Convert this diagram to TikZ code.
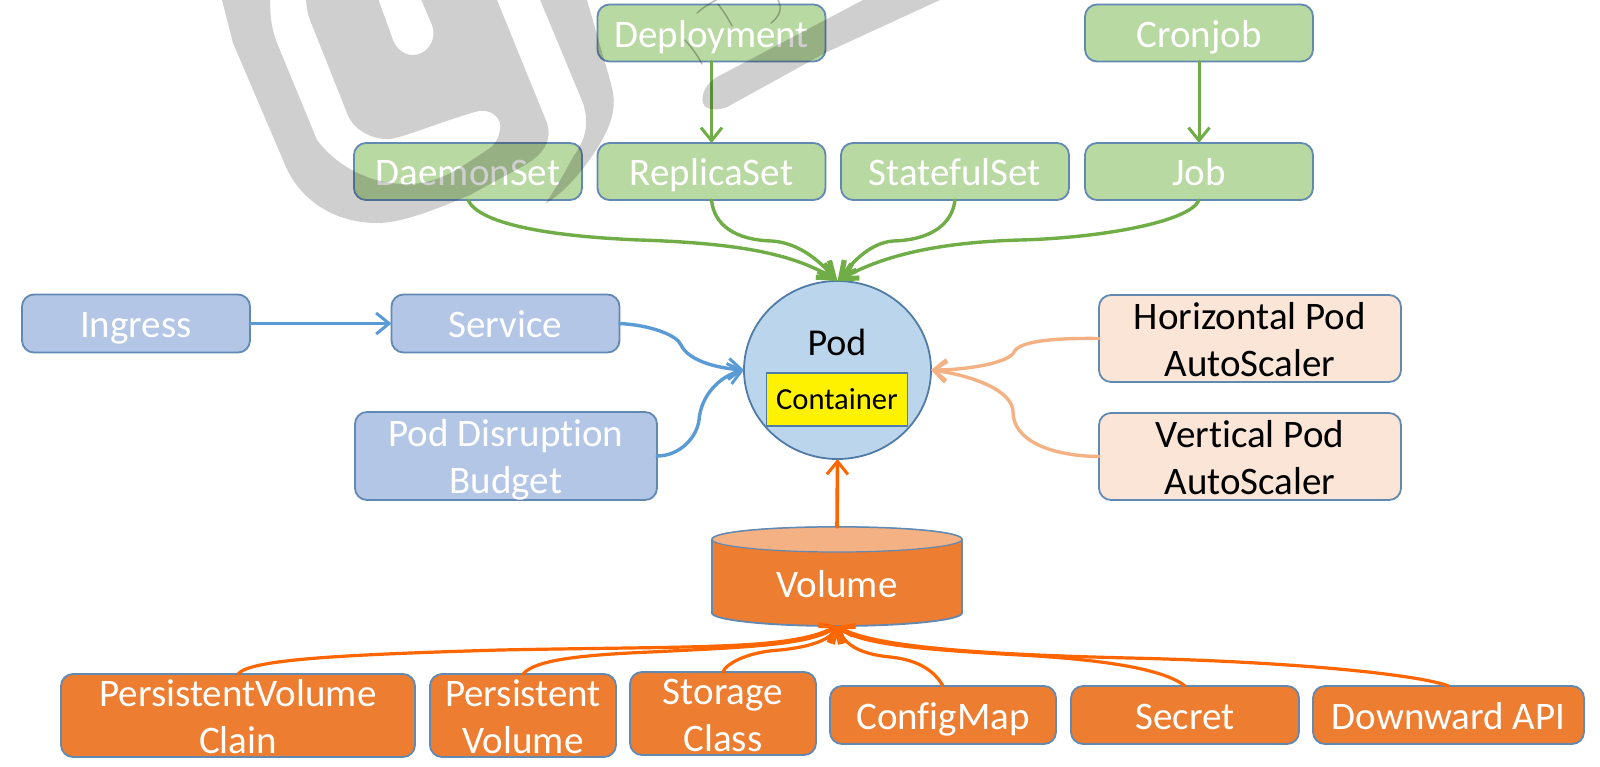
\documentclass[tikz,border=0pt]{standalone}
\usepackage{fontspec}
\setmainfont[Ligatures=NoCommon]{Carlito}
\usetikzlibrary{shapes.geometric,arrows.meta}
\definecolor{bord}{HTML}{6189B2}
\definecolor{gfill}{HTML}{B9D9A2}
\definecolor{bfill}{HTML}{B3C6E6}
\definecolor{pfill}{HTML}{FBE5D6}
\definecolor{ofill}{HTML}{ED7D31}
\definecolor{otop}{HTML}{F4B183}
\definecolor{podfill}{HTML}{BBD5ED}
\definecolor{podline}{HTML}{4F7BA6}
\definecolor{garrow}{HTML}{70AD47}
\definecolor{barrow}{HTML}{5B9BD5}
\definecolor{parrow}{HTML}{F4B183}
\definecolor{oarrow}{HTML}{FF6600}
\newcommand{\placelab}[2]{\raisebox{#1}[0pt][0pt]{\hbox to 0pt{\hss #2\hss}}}
\newcommand{\onelab}[1]{\placelab{-7pt}{#1}}
\newcommand{\twolab}[2]{\placelab{4.75pt}{#1}\placelab{-18.75pt}{#2}}
\tikzset{
  x=0.5pt,y=-0.5pt,
  boxbase/.style={rectangle,rounded corners=6pt,draw=bord,line width=.9pt,inner sep=0pt,outer sep=0pt,
    font=\fontsize{19.5}{23.5}\selectfont,minimum width=#1},
  greenbox/.style={boxbase=114pt,fill=gfill,text=white,minimum height=28.5pt},
  bluebox/.style={boxbase=114pt,fill=bfill,text=white,minimum height=29pt},
  peachbox/.style={boxbase=151pt,fill=pfill,text=black,minimum height=43.5pt},
  orangebox/.style={boxbase=#1,fill=ofill,text=white,minimum height=41.5pt},
  orangelow/.style={boxbase=#1,fill=ofill,text=white,minimum height=29pt},
  conn/.style={line width=#1,line cap=round,line join=round},
  tipped/.style={-{Straight Barb[length=6.5pt,width=10.5pt,line width=1.5pt]}},
  tippedheavy/.style={-{Straight Barb[length=7.5pt,width=8pt,line width=2.6pt]}},
  wm/.style={fill=black,opacity=.19,draw=none},
  scribble/.style={draw=black,opacity=.28,line width=.7pt,line cap=round}
}
\begin{document}
\begin{tikzpicture}
\useasboundingbox (0,0) rectangle (1600,766);
\fill[white] (0,0) rectangle (1600,766);

% upper green row
\node[greenbox] (dep) at (711.5,33) {\onelab{Deployment}};
\node[greenbox] (cron) at (1199,33) {\onelab{Cronjob}};
\node[greenbox] (ds) at (468,171.5) {\onelab{DaemonSet}};
\node[greenbox] (rs) at (711.5,171.5) {\onelab{ReplicaSet}};
\node[greenbox] (ss) at (955,171.5) {\onelab{StatefulSet}};
\node[greenbox] (job) at (1199,171.5) {\onelab{Job}};

% blue
\node[bluebox] (ing) at (136,323.5) {\onelab{Ingress}};
\node[bluebox] (svc) at (505.5,323.5) {\onelab{Service}};
\node[boxbase=151pt,fill=bfill,text=white,minimum height=44pt] (pdb) at (506,456) {\twolab{Pod Disruption}{Budget}};

% peach
\node[peachbox] (hpa) at (1250,338.5) {\twolab{Horizontal Pod}{AutoScaler}};
\node[peachbox] (vpa) at (1250,456.5) {\twolab{Vertical Pod}{AutoScaler}};

% pod
\node[ellipse,draw=podline,fill=podfill,line width=.9pt,inner sep=0pt,outer sep=0pt,minimum width=93.5pt,minimum height=89pt] (pod) at (837.5,370) {};
\node[font=\fontsize{19}{22}\selectfont,text=black,inner sep=0pt] (podt) at (837,342) {Pod};
\node[rectangle,draw=podline,fill=yellow,line width=.6pt,inner sep=0pt,outer sep=0pt,minimum width=70.5pt,minimum height=26.5pt,font=\fontsize{15.3}{18}\selectfont,text=black] (cont) at (837,399.5) {Container};

% volume
\node[rectangle,inner sep=0pt,outer sep=0pt,minimum width=125pt,minimum height=49.5pt] (vol) at (837,576.5) {};
\draw[fill=ofill,draw=bord,line width=.9pt] (712,539.5) -- (712,613)
  .. controls (712,620) and (768,626) .. (837,626)
  .. controls (906,626) and (962,620) .. (962,613) -- (962,539.5)
  .. controls (962,532) and (906,527) .. (837,527)
  .. controls (768,527) and (712,532) .. (712,539.5) -- cycle;
\draw[fill=otop,draw=bord,line width=.6pt] (712,539.5)
  .. controls (712,546) and (768,552) .. (837,552)
  .. controls (906,552) and (962,546) .. (962,539.5)
  .. controls (962,532) and (906,527) .. (837,527)
  .. controls (768,527) and (712,532) .. (712,539.5) -- cycle;
\node[font=\fontsize{19.5}{23.5}\selectfont,text=white,inner sep=0pt] (volt) at (837,584) {Volume};

% lower orange row
\node[orangebox=177pt] (pvc) at (238,715.5) {\twolab{PersistentVolume}{Clain}};
\node[orangebox=93pt] (pv) at (523,715.5) {\twolab{Persistent}{Volume}};
\node[orangebox=93pt] (sc) at (723,713.5) {\twolab{Storage}{Class}};
\node[orangelow=113pt] (cm) at (943,715) {\onelab{ConfigMap}};
\node[orangelow=114pt] (sec) at (1185,715) {\onelab{Secret}};
\node[orangelow=135.5pt] (dapi) at (1448.5,715) {\onelab{Downward API}};

% green connectors
\draw[conn=1.5pt,garrow,tipped] (dep.south) -- (rs.north);
\draw[conn=1.5pt,garrow,tipped] (cron.south) -- (job.north);
\draw[conn=1.7pt,garrow,tippedheavy] (ds.south) .. controls (478,222) and (540,236) .. (640,240) .. controls (730,243) and (790,252) .. (pod.north);
\draw[conn=1.7pt,garrow,tippedheavy] (rs.south) .. controls (714,225) and (735,240) .. (772,241) .. controls (800,243) and (820,262) .. (pod.north);
\draw[conn=1.7pt,garrow,tippedheavy] (ss.south) .. controls (952,225) and (930,240) .. (893,241) .. controls (870,243) and (853,262) .. (pod.north);
\draw[conn=1.7pt,garrow,tippedheavy] (job.south) .. controls (1190,222) and (1100,238) .. (1020,240) .. controls (950,242) and (890,252) .. (pod.north);

% blue connectors
\draw[conn=1.5pt,barrow,tipped] (ing.east) -- (svc.west);
\draw[conn=1.7pt,barrow,tipped] (svc.east) .. controls (650,325) and (677,335) .. (681,345) .. controls (688,360) and (715,368) .. (pod.west);
\draw[conn=1.7pt,barrow,tipped] (pdb.east) .. controls (680,456) and (697,437) .. (699,420) .. controls (701,395) and (720,376) .. (pod.west);

% peach connectors
\draw[conn=1.7pt,parrow,tipped] (hpa.west) .. controls (1060,338) and (1020,340) .. (1014,352) .. controls (1010,362) and (970,370) .. (pod.east);
\draw[conn=1.7pt,parrow,tipped] (vpa.west) .. controls (1050,456) and (1013,440) .. (1013,412) .. controls (1013,390) and (970,375) .. (pod.east);

% orange connectors
\draw[conn=1.8pt,oarrow,tipped] (vol.north) -- (pod.south);
\draw[conn=1.6pt,oarrow,tipped] (pvc.north) .. controls (250,660) and (330,655) .. (500,650) .. controls (700,646) and (790,650) .. (vol.south);
\draw[conn=1.6pt,oarrow,tipped] (pv.north) .. controls (535,660) and (580,655) .. (650,652) .. controls (750,647) and (810,645) .. (vol.south);
\draw[conn=1.6pt,oarrow,tipped] (sc.north) .. controls (725,665) and (745,652) .. (780,650) .. controls (810,647) and (830,640) .. (vol.south);
\draw[conn=1.6pt,oarrow,tipped] (cm.north) .. controls (935,672) and (920,660) .. (890,657) .. controls (860,654) and (845,645) .. (vol.south);
\draw[conn=1.6pt,oarrow,tipped] (sec.north) .. controls (1165,670) and (1110,660) .. (1020,655) .. controls (930,650) and (860,645) .. (vol.south);
\draw[conn=1.6pt,oarrow,tipped] (dapi.north) .. controls (1420,675) and (1300,662) .. (1130,658) .. controls (960,654) and (870,645) .. (vol.south);

% watermark laid over everything
\begin{scope}
\clip (0,0) rectangle (1600,766);
\fill[wm] (220,-10) -- (222,0) -- (233,43) -- (283,160) .. controls (300,205) and (340,223) .. (377,223)
  .. controls (400,223) and (430,212) .. (470,195) -- (525,165)
  .. controls (545,153) and (552,140) .. (547,123) -- (497,0) -- (493,-10) -- (417,-10) -- (432,25)
  .. controls (438,42) and (425,55) .. (413,55) .. controls (402,55) and (396,47) .. (393,40)
  -- (375,-10) -- (306,-10) .. controls (306,0) and (306,10) .. (310,20) -- (347,113)
  .. controls (352,128) and (370,140) .. (390,139) .. controls (405,137) and (440,122) .. (475,112)
  .. controls (490,107) and (503,118) .. (500,130) .. controls (498,140) and (495,145) .. (487,150)
  .. controls (460,168) and (440,183) .. (410,184) .. controls (375,185) and (340,170) .. (317,140)
  -- (277,43) .. controls (270,25) and (270,10) .. (270,-10) -- cycle;
\fill[wm] (536,-10) -- (583,103) .. controls (590,125) and (585,140) .. (573,157)
  .. controls (565,172) and (555,190) .. (545,204) .. controls (570,190) and (600,150) .. (610,123)
  .. controls (616,105) and (614,95) .. (610,80) -- (587,0) -- (583,-10) -- cycle;
\fill[wm] (882,-10) -- (863,0) -- (717,77) .. controls (703,85) and (700,100) .. (704,105)
  .. controls (708,111) and (720,110) .. (727,107) -- (827,52) -- (940,0) -- (960,-10) -- cycle;
\draw[scribble] (697,13) .. controls (705,6) and (712,2) .. (720,-2);
\draw[scribble] (718,4) .. controls (724,12) and (728,18) .. (732,26);
\draw[scribble] (777,-2) .. controls (783,8) and (780,16) .. (771,23);
\draw[scribble] (685,40) .. controls (692,48) and (698,56) .. (702,64);
\end{scope}
\end{tikzpicture}
\end{document}
